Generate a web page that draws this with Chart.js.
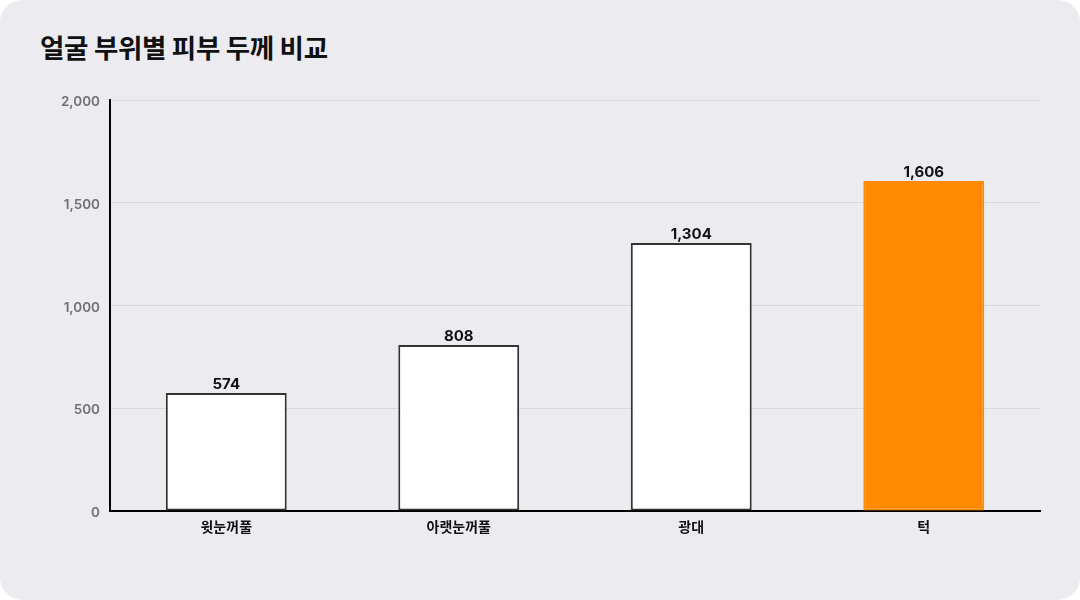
<!DOCTYPE html>
<html>
<head>
<meta charset="utf-8">
<script src="https://cdn.jsdelivr.net/npm/chart.js@4"></script>
<style>
    body { margin: 0; background: #ffffff; }
    .card {
        position: relative;
        width: 1080px;
        height: 600px;
        background: #ECEBF0;
        border-radius: 22px;
        overflow: hidden;
        font-family: Inter, "Noto Sans CJK KR", sans-serif;
    }
    .card h1 {
        position: absolute;
        left: 40px;
        top: 27px;
        margin: 0;
        font-size: 26.5px;
        font-weight: 700;
        color: #111111;
        font-family: "Noto Sans CJK KR", sans-serif;
        letter-spacing: -0.3px;
    }
    .chart_box { position: absolute; left: 0; top: 0; width: 1080px; height: 600px; }
</style>
</head>
<body>
<div class="card">
    <h1>얼굴 부위별 피부 두께 비교</h1>
    <div class="chart_box"><canvas id="myBarChart"></canvas></div>
</div>
<script>
var labels_p = ['윗눈꺼풀', '아랫눈꺼풀', '광대', '턱'];
var dataThickness = [574, 808, 1304, 1606];
var tickValues = [0, 500, 1000, 1500, 2000];

var FONT = 'Inter, "Noto Sans CJK KR", sans-serif';

// draws the value above each bar
var valueLabels = {
    id: 'valueLabels',
    afterDatasetsDraw: function (chart) {
        var ctx = chart.ctx;
        var meta = chart.getDatasetMeta(0);
        ctx.save();
        ctx.font = '700 15px ' + FONT;
        ctx.fillStyle = '#111111';
        ctx.textAlign = 'center';
        ctx.textBaseline = 'alphabetic';
        meta.data.forEach(function (bar, i) {
            ctx.fillText(dataThickness[i].toLocaleString('en-US'), bar.x, bar.y - 4);
        });
        ctx.restore();
    }
};

function BarChartReport() {
    var fills = [];
    var borders = [];
    $each(dataThickness, function (i) {
        var last = i == dataThickness.length - 1;
        fills.push(last ? '#FF8A00' : '#FFFFFF');
        borders.push(last ? '#FF8A00' : '#333333');
    });

    var ctx = document.getElementById('myBarChart').getContext('2d');
    window.bar = new Chart(ctx, {
        type: 'bar',
        data: {
            labels: labels_p,
            datasets: [{
                label: '피부 두께',
                data: dataThickness,
                backgroundColor: fills,
                borderColor: borders,
                borderWidth: 2,
                borderSkipped: false,
                categoryPercentage: 1,
                barPercentage: 0.52
            }]
        },
        options: {
            responsive: true,
            maintainAspectRatio: false,
            animation: false,
            layout: { padding: { top: 100, right: 40, left: 0, bottom: 0 } },
            plugins: {
                legend: { display: false },
                tooltip: { enabled: false }
            },
            scales: {
                x: {
                    grid: { display: false },
                    border: { color: '#000000', width: 2 },
                    ticks: {
                        color: '#111111',
                        padding: 0,
                        font: { family: FONT, size: 14, weight: '700' }
                    },
                    afterFit: function (scale) { scale.height = 89; }
                },
                y: {
                    min: 0,
                    max: 2000,
                    afterBuildTicks: function (scale) {
                        scale.ticks = tickValues.map(function (v) { return { value: v }; });
                    },
                    grid: { color: '#D9D8DE', lineWidth: 1, drawTicks: false },
                    border: { color: '#000000', width: 2 },
                    ticks: {
                        color: '#707072',
                        padding: 10,
                        labelOffset: 2,
                        font: { family: FONT, size: 13.5, weight: '600' },
                        callback: function (v) { return v.toLocaleString('en-US'); }
                    },
                    afterFit: function (scale) { scale.width = 110; }
                }
            }
        },
        plugins: [valueLabels]
    });
}

function $each(arr, fn) {
    for (var i = 0; i < arr.length; i++) fn(i, arr[i]);
}

BarChartReport();
</script>
</body>
</html>
